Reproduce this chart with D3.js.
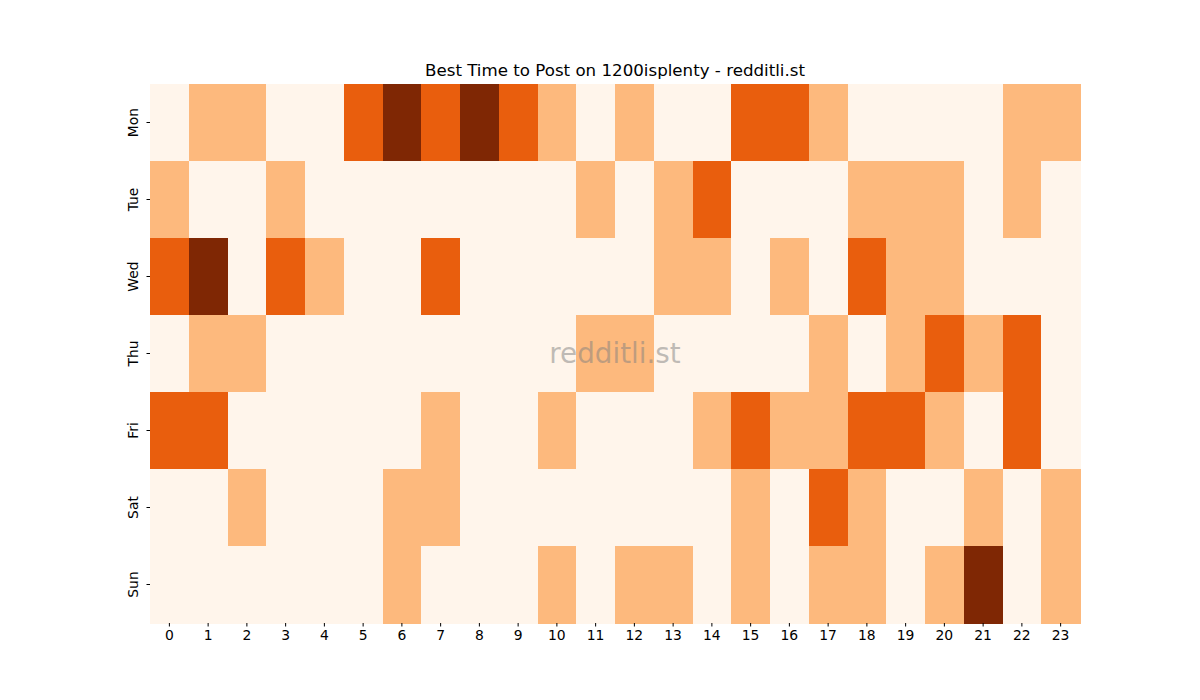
<!DOCTYPE html>
<html>
<head>
<meta charset="utf-8">
<script src="https://cdn.jsdelivr.net/npm/d3@7"></script>
<style>
	body { margin: 0; background: #fff; }
	text { font-family: "DejaVu Sans", sans-serif; }
</style>
</head>
<body>
<div id="chart-area"></div>
<script>
// days (rows) and hours (columns)
const days = ["Mon", "Tue", "Wed", "Thu", "Fri", "Sat", "Sun"];
const hours = d3.range(24);

// activity level per day, one value per hour (0 - 3)
const mon = [0,1,1,0,0,2,3,2,3,2,1,0,1,0,0,2,2,1,0,0,0,0,1,1];
const tue = [1,0,0,1,0,0,0,0,0,0,0,1,0,1,2,0,0,0,1,1,1,0,1,0];
const wed = [2,3,0,2,1,0,0,2,0,0,0,0,0,1,1,0,1,0,2,1,1,0,0,0];
const thu = [0,1,1,0,0,0,0,0,0,0,0,1,1,0,0,0,0,1,0,1,2,1,2,0];
const fri = [2,2,0,0,0,0,0,1,0,0,1,0,0,0,1,2,1,1,2,2,1,0,2,0];
const sat = [0,0,1,0,0,0,1,1,0,0,0,0,0,0,0,1,0,2,1,0,0,1,0,1];
const sun = [0,0,0,0,0,0,1,0,0,0,1,0,1,1,0,1,0,1,1,0,1,3,0,1];

const levels = [mon, tue, wed, thu, fri, sat, sun];

const title = "Best Time to Post on 1200isplenty - redditli.st";
const watermark = "redditli.st";

// build cell table
let cells = [];
days.forEach((day, i) => {
	hours.forEach(h => {
		cells.push({ day: day, hour: h, value: levels[i][h] });
	});
});

// sizes
const margin = { top: 84, right: 120, bottom: 77, left: 150 };
const width = 1200 - margin.left - margin.right,
	height = 700 - margin.top - margin.bottom;

let svg = d3.select("#chart-area").append("svg")
	.attr("width", 1200)
	.attr("height", 700);

let g = svg.append("g")
	.attr("transform", "translate(" + margin.left + "," + margin.top + ")");

// scales
let x = d3.scaleBand().domain(hours).range([0, width]);
let y = d3.scaleBand().domain(days).range([0, height]);
let color = d3.scaleOrdinal()
	.domain([0, 1, 2, 3])
	.range(["#fff5eb", "#fdb97d", "#e95e0d", "#7f2704"]);

// cells
g.selectAll("rect.cell")
	.data(cells)
	.enter()
	.append("rect")
	.attr("class", "cell")
	.attr("x", d => x(d.hour))
	.attr("y", d => y(d.day))
	.attr("width", x.bandwidth() + 0.5)
	.attr("height", y.bandwidth() + 0.5)
	.attr("fill", d => color(d.value))
	.attr("shape-rendering", "crispEdges");

// axes
let xAxis = d3.axisBottom(x).tickSize(3.5).tickPadding(3.5);
let yAxis = d3.axisLeft(y).tickSize(3.5).tickPadding(3.5);

let gx = g.append("g")
	.attr("transform", "translate(0," + height + ")")
	.call(xAxis);
gx.select(".domain").remove();
gx.selectAll("text").attr("font-size", 13.9).attr("fill", "#000").attr("dy", "0.71em");
gx.selectAll("line").attr("stroke", "#000").attr("stroke-width", 1);

let gy = g.append("g").call(yAxis);
gy.select(".domain").remove();
gy.selectAll("line").attr("stroke", "#000").attr("stroke-width", 1);
gy.selectAll("text")
	.attr("font-size", 13.9)
	.attr("fill", "#000")
	.attr("x", null)
	.attr("dy", null)
	.attr("text-anchor", "middle")
	.attr("transform", "translate(-12,0) rotate(-90)")
	.attr("y", 0);

// title
svg.append("text")
	.attr("x", margin.left + width / 2)
	.attr("y", 76)
	.attr("text-anchor", "middle")
	.attr("font-size", 16.67)
	.attr("fill", "#000")
	.text(title);

// watermark
g.append("text")
	.attr("x", width / 2)
	.attr("y", height / 2)
	.attr("dy", "0.35em")
	.attr("text-anchor", "middle")
	.attr("font-size", 27.8)
	.attr("fill", "#808080")
	.attr("fill-opacity", 0.5)
	.text(watermark);
</script>
</body>
</html>
